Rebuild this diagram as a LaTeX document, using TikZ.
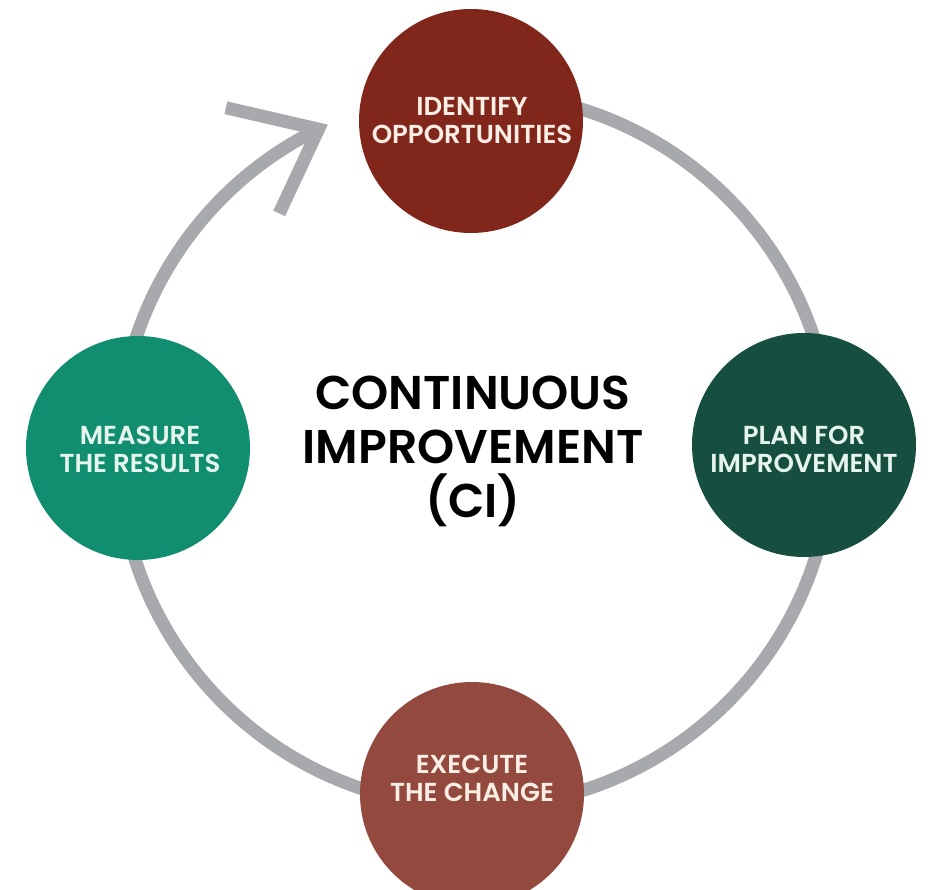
\documentclass[tikz,border=0pt]{standalone}
\usepackage{fontspec}
\setmainfont{Poppins}
\newfontfamily\psemi{Poppins SemiBold}
\definecolor{ringgray}{HTML}{A7A9AC}
\definecolor{redA}{HTML}{80261A}
\definecolor{redB}{HTML}{93493D}
\definecolor{greenA}{HTML}{164E3F}
\definecolor{greenB}{HTML}{118D6F}
\definecolor{creamtxt}{HTML}{FCEEE4}
\definecolor{minttxt}{HTML}{E6F4EE}
\tikzset{
  ring/.style={draw=ringgray, line width=9.75pt},
  stagecirc/.style={circle, minimum size=168pt, inner sep=0pt},
  stagetext/.style={align=center, inner sep=0pt, font=\psemi\fontsize{19.5}{21}\selectfont},
  centertext/.style={align=center, font=\psemi\fontsize{35.5}{40.5}\selectfont, text=black}
}
\begin{document}
\begin{tikzpicture}[x=0.75pt,y=0.75pt]
\useasboundingbox (0,0) rectangle (928,889);
\clip (0,0) rectangle (928,889);
\coordinate (c) at (475,439);
% ring with arrow
\draw[ring] (c) ++(90:357) arc[start angle=90, end angle=-244, radius=357];
\path (c) ++(116:357) coordinate (tip);
\path (tip) ++(167:95) coordinate (arm1);
\path (tip) ++(245:93) coordinate (arm2);
\draw[ring, line join=miter] (arm1) -- (tip) -- (arm2);
% stages
\node[stagecirc, fill=redA] (identify) at (471,768) {};
\node[stagetext, text=creamtxt] (identifyT) at (472,768) {IDENTIFY\\OPPORTUNITIES};
\node[stagecirc, fill=greenA] (plan) at (804,444) {};
\node[stagetext, text=minttxt] (planT) at (804,440) {PLAN FOR\\IMPROVEMENT};
\node[stagecirc, fill=redB] (execute) at (472,95) {};
\node[stagetext, text=creamtxt] (executeT) at (472,111) {EXECUTE\\THE CHANGE};
\node[stagecirc, fill=greenB] (measure) at (138,441) {};
\node[stagetext, text=minttxt] (measureT) at (140,440) {MEASURE\\THE RESULTS};
% center
\node[centertext] (ci) at (473,438) {CONTINUOUS\\IMPROVEMENT\\(CI)};
\end{tikzpicture}
\end{document}
